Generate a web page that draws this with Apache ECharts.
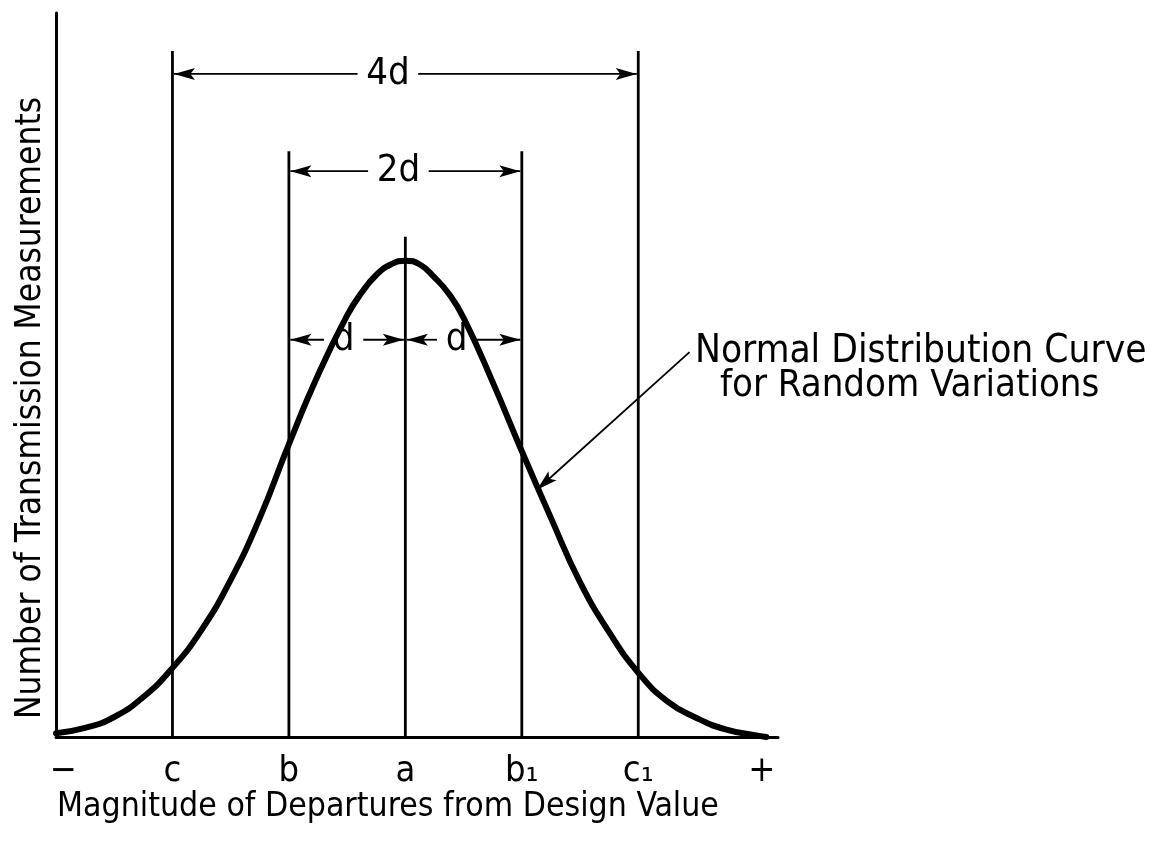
<!DOCTYPE html>
<html>
<head>
<meta charset="utf-8">
<script src="https://cdn.jsdelivr.net/npm/echarts@6/dist/echarts.min.js"></script>
<style>
  html, body { margin: 0; padding: 0; background: #ffffff; }
  #chart { width: 1170px; height: 844px; }
</style>
</head>
<body>
<div id="chart"></div>
<script>
// Departures are measured in units of d, with the design value a at 0.
// Curve heights are relative to the peak (peak = 100).
const curveX = [-3.0, -2.75, -2.5, -2.25, -2.0, -1.75, -1.5, -1.25, -1.0, -0.75, -0.5, -0.375, -0.25, -0.125, 0, 0.125, 0.25, 0.375, 0.5, 0.75, 1.0, 1.25, 1.5, 1.75, 2.0, 2.25, 2.5, 2.75, 3.0, 3.1];
const curveY = [0.8, 1.9, 4.2, 8.4, 14.5, 22.5, 33, 46, 61.5, 76, 88.5, 93.3, 97, 99.2, 100, 99.2, 96.5, 93, 88, 74.5, 60, 46, 32.5, 22, 13.5, 7.5, 4.0, 1.6, 0.4, 0];

// Axis tick positions and their letters
const tickValues = [-3, -2, -1, 0, 1, 2, 3];
const tickLabels = ['−', 'c', 'b', 'a', 'b₁', 'c₁', '+'];

// Vertical reference lines at c, b, a, b1, c1 and how high they rise
const guideX = [-2, -1, 0, 1, 2];
const guideTop = [144, 123, 105, 123, 144];

// Dimension spans: label, left end, right end, height of the arrow line, label centre
const spanLabels = ['4d', '2d', 'd', 'd'];
const spanLeft = [-2, -1, -1, 0];
const spanRight = [2, 1, 0, 1];
const spanLevel = [139.2, 118.8, 83.4, 83.4];
const spanTextX = [-0.15, -0.06, -0.53, 0.44];

// Leader arrow from the curve note to the curve
const leaderFrom = [2.44, 80.8];
const leaderTo = [1.13, 51.9];

const FONT = "'DejaVu Sans Condensed', 'DejaVu Sans', sans-serif";
const INK = '#000000';

const curveData = curveX.map((x, i) => [x, curveY[i]]);
const guideData = guideX.map((x, i) => [x, guideTop[i]]);
const spanData = spanLabels.map((t, i) => [spanLeft[i], spanRight[i], spanLevel[i], spanTextX[i]]);

function arrowHead(tip, from, len, half) {
  const dx = tip[0] - from[0], dy = tip[1] - from[1];
  const L = Math.sqrt(dx * dx + dy * dy) || 1;
  const ux = dx / L, uy = dy / L;
  const px = -uy, py = ux;
  const bx = tip[0] - ux * len, by = tip[1] - uy * len;
  const nx = tip[0] - ux * len * 0.78, ny = tip[1] - uy * len * 0.78;
  return {
    type: 'polygon',
    shape: { points: [tip, [bx + px * half, by + py * half], [nx, ny], [bx - px * half, by - py * half]] },
    style: { fill: INK }
  };
}

function arrowLine(from, tip) {
  return [
    { type: 'line', shape: { x1: from[0], y1: from[1], x2: tip[0], y2: tip[1] }, style: { stroke: INK, lineWidth: 1.8 } },
    arrowHead(tip, from, 21, 6)
  ];
}

const chart = echarts.init(document.getElementById('chart'), null, { renderer: 'canvas' });

chart.setOption({
  backgroundColor: '#ffffff',
  animation: false,
  grid: { left: 56, right: 392, top: 13, bottom: 107, containLabel: false },
  xAxis: {
    type: 'value',
    min: -3,
    max: 3.2,
    interval: 1,
    axisLine: { show: true, onZero: false, lineStyle: { color: INK, width: 3 } },
    axisTick: { show: false },
    splitLine: { show: false },
    axisLabel: {
      show: true,
      showMaxLabel: false,
      margin: 17,
      color: INK,
      fontFamily: FONT,
      fontSize: 36,
      formatter: function (v) {
        const i = tickValues.indexOf(Math.round(v * 1000) / 1000);
        if (i < 0) return '';
        if (i === 0) return '{lo|' + tickLabels[i] + '}';
        if (i === tickLabels.length - 1) return '{hi|' + tickLabels[i] + '}';
        return tickLabels[i];
      },
      rich: {
        lo: { fontFamily: FONT, fontSize: 36, color: INK, padding: [0, 0, 0, 14] },
        hi: { fontFamily: FONT, fontSize: 36, color: INK, padding: [0, 0, 0, 14] }
      }
    }
  },
  yAxis: {
    type: 'value',
    min: 0,
    max: 152,
    axisLine: { show: true, onZero: false, lineStyle: { color: INK, width: 3 } },
    axisTick: { show: false },
    axisLabel: { show: false },
    splitLine: { show: false }
  },
  graphic: [
    {
      type: 'text', x: 388, y: 807,
      style: { text: 'Magnitude of Departures from Design Value', font: '33.5px ' + FONT, fill: INK, textAlign: 'center', textVerticalAlign: 'middle' }
    },
    {
      type: 'text', x: 31, y: 408, rotation: Math.PI / 2,
      style: { text: 'Number of Transmission Measurements', font: '35px ' + FONT, fill: INK, textAlign: 'center', textVerticalAlign: 'middle' }
    },
    {
      type: 'text', x: 695, y: 352,
      style: { text: 'Normal Distribution Curve', font: '38.5px ' + FONT, fill: INK, textAlign: 'left', textVerticalAlign: 'middle' }
    },
    {
      type: 'text', x: 720, y: 386,
      style: { text: 'for Random Variations', font: '38px ' + FONT, fill: INK, textAlign: 'left', textVerticalAlign: 'middle' }
    }
  ],
  series: [
    {
      // vertical reference lines rising from the baseline
      type: 'custom',
      clip: false,
      silent: true,
      renderItem: function (params, api) {
        const x = api.value(0);
        const p0 = api.coord([x, 0]);
        const p1 = api.coord([x, api.value(1)]);
        return { type: 'line', shape: { x1: p0[0], y1: p0[1], x2: p1[0], y2: p1[1] }, style: { stroke: INK, lineWidth: 2.8 } };
      },
      data: guideData,
      z: 2
    },
    {
      // normal distribution curve
      type: 'line',
      data: curveData,
      smooth: 0.5,
      showSymbol: false,
      symbol: 'none',
      clip: false,
      lineStyle: { color: INK, width: 6, cap: 'round', join: 'round' },
      z: 3
    },
    {
      // dimension spans with labels and outward arrows
      type: 'custom',
      clip: false,
      silent: true,
      renderItem: function (params, api) {
        const left = api.coord([api.value(0), api.value(2)]);
        const right = api.coord([api.value(1), api.value(2)]);
        const mid = api.coord([api.value(3), api.value(2)]);
        const label = spanLabels[params.dataIndex];
        const fs = 38;
        const half = label.length * fs * 0.28 + 9;
        const children = [
          { type: 'text', x: mid[0], y: mid[1], style: { text: label, font: fs + 'px ' + FONT, fill: INK, textAlign: 'center', textVerticalAlign: 'middle' } }
        ];
        return {
          type: 'group',
          children: children
            .concat(arrowLine([mid[0] - half, mid[1]], [left[0] + 1.5, left[1]]))
            .concat(arrowLine([mid[0] + half, mid[1]], [right[0] - 1.5, right[1]]))
        };
      },
      data: spanData,
      z: 4
    },
    {
      // leader from the curve note to the curve
      type: 'custom',
      clip: false,
      silent: true,
      renderItem: function (params, api) {
        const a = api.coord([api.value(0), api.value(1)]);
        const b = api.coord([api.value(2), api.value(3)]);
        return { type: 'group', children: arrowLine(a, b) };
      },
      data: [[leaderFrom[0], leaderFrom[1], leaderTo[0], leaderTo[1]]],
      z: 4
    }
  ]
});
</script>
</body>
</html>
